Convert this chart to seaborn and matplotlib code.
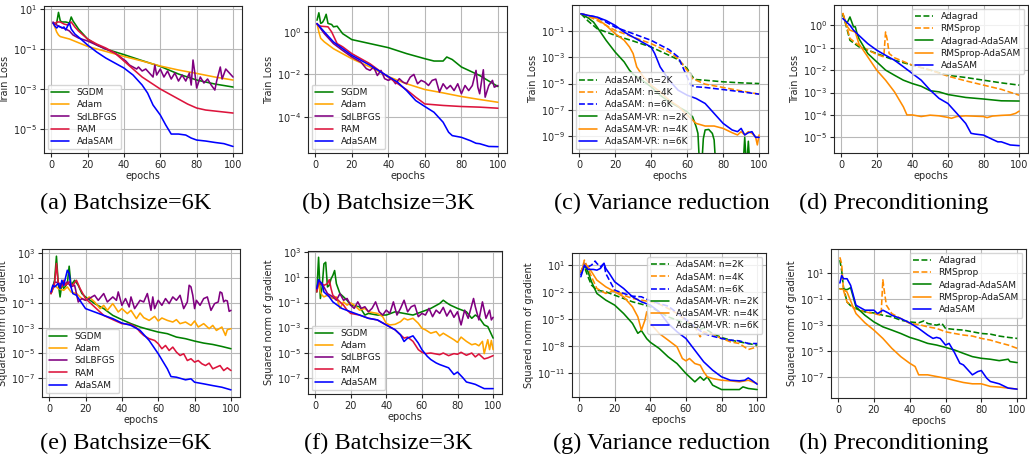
import numpy as np
import pandas as pd
import matplotlib
matplotlib.use("Agg")
import matplotlib.pyplot as plt
import seaborn as sns

# every series is a list of (epoch, log10 of the plotted value)

# (a) train loss, batchsize 6K
a_sgdm = [(1,0.3),(2,0.25),(3,0.3),(4,0.83),(5,0.4),(6,0.35),(8,0.35),(10,0.3),(11,0.6),(12,0.4),(15,0.0),(20,-0.5),
          (25,-0.8),(30,-1.0),(40,-1.28),(50,-1.58),(60,-1.87),(70,-2.25),(80,-2.55),(90,-2.75),(100,-2.9)]
a_adam = [(1,0.3),(2,0.1),(3,-0.15),(4,-0.3),(5,-0.38),(10,-0.5),(20,-0.87),(30,-1.12),(40,-1.37),(50,-1.6),
          (60,-1.85),(70,-2.05),(80,-2.22),(90,-2.4),(100,-2.55)]
a_sdlbfgs = [(1,0.35),(3,0.2),(5,0.1),(8,0.0),(10,-0.1),(12,-0.3),(15,-0.45),(20,-0.6),(25,-0.8),(30,-1.0),(35,-1.2),
             (38,-1.4),(41,-1.6),(43,-1.8),(45,-1.9),(47,-2.0),(48,-1.9),(50,-2.1),(52,-2.0),(54,-2.2),(56,-2.4),
             (57,-1.8),(58,-2.3),(60,-2.0),(62,-2.4),(64,-2.1),(66,-2.5),(68,-2.2),(70,-2.6),(72,-2.3),(74,-2.6),
             (76,-2.2),(77,-2.8),(78,-1.55),(79,-2.2),(80,-2.95),(82,-2.4),(84,-2.7),(86,-2.5),(88,-2.8),(90,-3.05),
             (91,-2.6),(93,-1.9),(94,-2.5),(96,-2.0),(98,-2.2),(100,-2.4)]
a_ram = [(1,0.3),(2,0.25),(3,0.35),(5,0.35),(7,0.25),(9,0.2),(11,0.35),(13,0.1),(15,-0.1),(20,-0.5),(25,-0.75),
         (30,-0.95),(35,-1.2),(40,-1.6),(45,-2.0),(50,-2.4),(55,-2.7),(60,-3.0),(65,-3.25),(70,-3.5),(75,-3.75),
         (80,-3.95),(85,-4.05),(90,-4.1),(95,-4.15),(100,-4.2)]
a_adasam = [(1,0.3),(2,0.15),(3,0.05),(4,0.15),(5,0.1),(6,0.05),(7,0.1),(8,-0.05),(9,0.15),(10,0.3),(11,0.0),
            (13,-0.25),(15,-0.4),(20,-0.8),(25,-1.15),(30,-1.45),(35,-1.7),(40,-1.95),(45,-2.3),(50,-2.8),(53,-3.2),
            (56,-3.8),(60,-4.3),(63,-4.8),(66,-5.25),(70,-5.25),(74,-5.3),(77,-5.45),(80,-5.55),(85,-5.6),(90,-5.67),
            (95,-5.73),(100,-5.87)]

# (b) train loss, batchsize 3K
b_sgdm = [(1,0.55),(2,0.9),(3,0.4),(4,0.45),(5,0.6),(6,0.83),(7,0.4),(9,0.35),(10,0.24),(12,0.27),(15,-0.08),
          (20,-0.36),(30,-0.55),(40,-0.74),(50,-1.02),(60,-1.26),(65,-1.37),(70,-1.37),(72,-1.18),(75,-1.3),
          (80,-1.65),(90,-2.05),(100,-2.57)]
b_adam = [(1,0.4),(2,0.0),(3,-0.3),(5,-0.47),(10,-0.79),(20,-1.26),(30,-1.65),(40,-2.1),(50,-2.44),(60,-2.71),
          (70,-2.87),(80,-3.04),(90,-3.18),(100,-3.31)]
b_sdlbfgs = [(1,0.39),(5,-0.08),(10,-0.55),(15,-0.87),(20,-1.18),(25,-1.42),(28,-1.73),(30,-1.81),(32,-1.65),
             (34,-2.05),(36,-1.81),(38,-2.2),(40,-2.28),(42,-2.2),(44,-2.44),(46,-2.2),(48,-2.36),(50,-2.44),
             (52,-2.13),(54,-2.0),(56,-2.44),(58,-2.28),(60,-2.36),(62,-2.52),(64,-2.28),(66,-2.22),(68,-2.83),
             (70,-2.44),(72,-2.68),(74,-2.52),(76,-2.76),(78,-2.44),(80,-2.91),(82,-2.52),(84,-2.76),(86,-2.52),
             (88,-1.81),(89,-2.6),(90,-2.91),(92,-1.78),(93,-3.07),(95,-2.52),(97,-2.28),(98,-2.6),(100,-2.52)]
b_ram = [(1,0.36),(3,0.27),(7,0.24),(9,0.0),(12,-0.55),(15,-0.7),(20,-1.02),(30,-1.5),(40,-2.13),(50,-2.72),
         (55,-3.07),(60,-3.39),(70,-3.46),(80,-3.51),(90,-3.54),(100,-3.59)]
b_adasam = [(1,0.39),(5,0.0),(10,-0.47),(20,-1.1),(30,-1.57),(40,-2.1),(45,-2.36),(50,-2.76),(55,-3.23),(60,-3.51),
            (65,-3.78),(70,-4.25),(73,-4.72),(75,-4.88),(80,-4.96),(85,-5.12),(88,-5.24),(90,-5.26),(95,-5.39),
            (100,-5.4)]

# (c) train loss, variance reduction
c_sam2 = [(1,0.32),(5,-0.24),(10,-0.82),(20,-1.33),(30,-1.76),(40,-2.22),(50,-2.85),(55,-3.18),(60,-3.86),
          (63,-4.49),(65,-4.7),(70,-4.75),(80,-4.87),(90,-4.95),(100,-5.0)]
c_sam4 = [(1,0.32),(5,0.12),(10,-0.19),(20,-0.95),(30,-1.46),(40,-1.96),(50,-2.6),(55,-3.1),(60,-3.99),(63,-4.62),
          (65,-4.75),(70,-5.05),(80,-5.3),(90,-5.56),(100,-5.81)]
c_sam6 = [(1,0.32),(5,0.19),(10,0.06),(15,-0.32),(20,-0.7),(30,-1.2),(40,-1.71),(50,-2.42),(55,-2.97),(60,-4.49),
          (62,-5.13),(65,-5.25),(70,-5.3),(80,-5.46),(90,-5.63),(100,-5.81)]
c_vr2 = [(1,0.32),(5,0.0),(8,-0.32),(10,-0.7),(15,-1.71),(20,-2.6),(25,-3.35),(28,-3.99),(30,-4.29),(35,-4.75),
         (40,-5.25),(45,-5.89),(50,-6.39),(55,-6.77),(60,-7.15),(63,-7.53),(65,-8.29),(66,-8.8),(67,-11.5),
         (68,-11.5),(69,-9.2),(70,-8.54),(72,-8.5),(74,-8.8),(75,-9.3),(76,-11.5),(91,-11.5),(92,-9.1),(93,-11.5),
         (94,-9.4),(95,-11.5),(100,-11.5)]
c_vr4 = [(1,0.32),(5,0.19),(10,-0.06),(15,-0.57),(20,-1.2),(25,-1.7),(28,-2.22),(30,-2.72),(32,-3.73),(35,-4.37),
         (40,-5.13),(45,-5.63),(50,-6.27),(55,-6.72),(60,-7.4),(65,-8.04),(70,-8.24),(75,-8.24),(80,-8.42),
         (85,-8.75),(88,-8.92),(90,-8.67),(92,-8.92),(94,-8.67),(96,-8.8),(98,-9.05),(99,-9.68),(100,-8.92)]
c_vr6 = [(1,0.32),(5,0.19),(10,0.06),(15,-0.2),(20,-0.57),(25,-1.08),(30,-1.46),(35,-1.84),(40,-2.22),(42,-2.72),
         (45,-3.73),(50,-4.75),(55,-5.51),(60,-5.89),(65,-6.14),(70,-6.52),(75,-7.28),(80,-8.04),(85,-8.54),
         (88,-8.67),(90,-8.42),(92,-8.92),(94,-8.75),(96,-8.67),(98,-9.1),(100,-9.1)]

# (d) train loss, preconditioning
d_adagrad = [(1,0.52),(3,-0.07),(5,-0.67),(10,-0.96),(20,-1.26),(30,-1.56),(40,-1.78),(50,-2.0),(60,-2.23),
             (70,-2.33),(80,-2.45),(90,-2.57),(100,-2.67)]
d_rmsprop = [(1,0.55),(3,0.0),(5,-0.59),(10,-0.9),(20,-1.3),(24,-1.41),(25,-0.3),(26,-0.67),(27,-1.26),(30,-1.45),
             (40,-1.78),(50,-2.0),(60,-2.27),(70,-2.48),(80,-2.67),(90,-2.86),(100,-3.12)]
d_adagrad_sam = [(1,0.45),(3,0.07),(4,0.2),(5,0.37),(6,0.15),(7,-0.07),(8,-0.07),(9,-0.37),(10,-0.59),(15,-1.26),
                 (20,-1.63),(25,-2.0),(30,-2.23),(35,-2.45),(40,-2.6),(45,-2.72),(50,-2.92),(55,-2.97),(60,-3.09),
                 (70,-3.22),(80,-3.29),(90,-3.37),(100,-3.38)]
d_rmsprop_sam = [(1,0.52),(3,0.0),(5,-0.22),(8,-0.3),(10,-0.82),(15,-1.41),(20,-2.0),(25,-2.45),(30,-2.97),
                 (35,-3.64),(37,-4.0),(40,-4.0),(45,-4.07),(50,-4.01),(55,-4.04),(60,-4.11),(62,-4.15),(65,-4.07),
                 (70,-4.04),(80,-4.07),(82,-4.12),(85,-4.05),(90,-4.02),(95,-4.0),(98,-3.93),(100,-3.83)]
d_adasam = [(1,0.3),(3,0.15),(5,0.0),(7,-0.22),(10,-0.45),(15,-0.82),(20,-1.11),(25,-1.34),(30,-1.56),(35,-1.85),
            (40,-2.15),(45,-2.45),(50,-2.89),(55,-3.26),(60,-3.49),(65,-3.93),(70,-4.38),(73,-4.82),(75,-4.85),
            (80,-4.9),(85,-5.09),(88,-5.2),(90,-5.2),(95,-5.34),(100,-5.37)]

# (e) squared gradient norm, batchsize 6K
e_sgdm = [(1,-0.25),(2,0.28),(3,0.81),(4,2.73),(5,0.55),(6,-0.52),(7,0.55),(8,0.15),(10,0.55),(11,1.93),(12,0.41),
          (14,0.81),(16,0.41),(18,-0.25),(20,-0.52),(25,-1.05),(30,-1.45),(35,-1.99),(40,-2.33),(45,-2.65),
          (50,-2.92),(55,-3.13),(60,-3.32),(65,-3.45),(70,-3.72),(75,-3.85),(80,-4.04),(85,-4.2),(90,-4.31),
          (95,-4.47),(100,-4.65)]
e_adam = [(1,-0.25),(3,0.41),(5,0.15),(8,0.01),(10,0.28),(12,-0.12),(15,-0.25),(18,-0.65),(20,-0.79),(22,-0.52),
          (25,-0.92),(28,-1.45),(30,-1.19),(32,-1.59),(35,-1.05),(38,-1.72),(40,-1.45),(43,-1.85),(45,-1.59),
          (48,-2.25),(50,-1.8),(52,-2.17),(55,-2.39),(58,-2.07),(60,-2.44),(62,-2.2),(65,-2.39),(68,-2.52),
          (70,-2.33),(72,-2.65),(75,-2.52),(78,-2.79),(80,-2.44),(82,-2.92),(85,-2.65),(88,-3.05),(90,-2.79),
          (92,-3.19),(95,-2.92),(97,-3.59),(98,-3.13),(100,-3.05)]
e_sdlbfgs = [(1,-0.25),(3,0.68),(5,0.6),(8,0.41),(10,0.68),(12,0.28),(14,0.41),(16,-0.92),(18,-0.65),(20,-0.79),
             (22,-0.65),(25,-0.39),(27,-0.79),(30,-0.25),(32,-0.92),(35,-0.52),(37,-0.79),(38,-0.12),(40,-1.19),
             (42,-0.65),(44,-1.32),(45,-0.52),(47,-1.45),(50,-0.79),(52,-0.92),(54,-0.25),(56,-1.59),(57,-0.52),
             (58,-1.45),(60,-0.79),(62,-1.19),(64,-0.65),(66,-1.05),(68,-0.52),(70,-0.79),(72,-0.39),(74,-1.45),
             (76,-0.92),(77,0.41),(78,0.28),(79,-0.39),(80,-1.45),(81,-0.79),(83,-1.19),(85,-0.65),(87,-0.52),
             (89,-1.59),(91,-1.05),(93,-0.92),(94,-0.12),(95,-0.2),(96,-0.92),(97,-0.79),(98,-0.84),(99,-1.67),
             (100,-1.59)]
e_ram = [(1,-0.25),(2,0.15),(3,0.55),(4,2.15),(5,0.55),(7,0.28),(8,0.81),(9,0.41),(11,0.68),(13,0.41),(15,0.81),
         (17,0.15),(20,-0.65),(25,-1.32),(30,-1.99),(35,-2.33),(40,-2.65),(45,-2.71),(48,-2.97),(50,-3.32),
         (52,-3.59),(55,-3.85),(58,-3.99),(60,-4.25),(62,-4.65),(64,-4.39),(66,-4.79),(68,-4.52),(70,-4.92),
         (72,-5.19),(74,-5.05),(76,-5.59),(78,-5.45),(80,-5.72),(82,-5.59),(84,-5.85),(86,-5.99),(88,-5.8),
         (90,-6.25),(92,-6.12),(94,-5.99),(96,-6.39),(98,-6.17),(100,-6.39)]
e_adasam = [(1,-0.12),(2,0.41),(3,0.28),(5,0.55),(6,0.15),(7,0.81),(8,0.41),(10,1.61),(11,1.35),(12,0.28),
            (13,-0.25),(15,-0.39),(20,-1.45),(25,-1.72),(30,-1.99),(35,-2.25),(40,-2.6),(45,-2.79),(50,-3.19),
            (55,-3.99),(60,-5.05),(65,-6.25),(67,-6.87),(70,-6.92),(75,-7.13),(78,-7.05),(80,-7.32),(85,-7.45),
            (90,-7.59),(95,-7.72),(100,-7.93)]

# (f) squared gradient norm, batchsize 3K
f_sgdm = [(1,-0.16),(2,2.61),(3,-0.68),(4,0.24),(5,2.08),(6,2.21),(7,0.24),(8,0.37),(9,0.89),(10,1.16),(11,1.55),
          (12,0.5),(14,-0.29),(16,-0.55),(18,-0.82),(20,-1.21),(25,-1.34),(28,-2.0),(30,-1.87),(35,-2.0),(40,-2.0),
          (45,-1.74),(50,-1.87),(55,-2.0),(60,-1.74),(65,-1.47),(70,-1.08),(72,-0.82),(74,-1.03),(76,-1.21),
          (80,-1.47),(85,-1.74),(88,-2.26),(90,-2.0),(92,-2.18),(95,-2.79),(97,-2.92),(100,-3.84)]
f_adam = [(1,0.11),(2,0.5),(3,-0.16),(4,-0.42),(5,-0.55),(7,-0.42),(10,-0.68),(12,-0.55),(14,-1.47),(16,-0.95),
          (18,-1.21),(20,-1.03),(22,-1.21),(25,-1.61),(28,-1.47),(30,-1.74),(35,-1.87),(38,-2.13),(40,-2.66),
          (42,-2.79),(45,-2.74),(48,-2.53),(50,-2.26),(52,-2.39),(55,-2.26),(58,-2.66),(60,-3.05),(62,-3.18),
          (65,-3.45),(68,-3.32),(70,-3.66),(72,-3.45),(75,-3.71),(78,-3.97),(80,-4.18),(82,-3.76),(85,-4.1),
          (88,-4.37),(90,-4.29),(92,-4.45),(94,-4.1),(95,-5.08),(96,-4.5),(97,-3.97),(98,-4.76),(99,-4.03),
          (100,-4.76)]
f_sdlbfgs = [(1,0.03),(2,0.76),(3,0.5),(5,0.24),(7,-0.29),(10,-0.55),(12,-0.82),(14,-0.29),(16,-0.82),(18,-0.68),
             (20,-1.21),(22,-1.47),(24,-0.95),(26,-1.47),(28,-1.34),(30,-1.74),(32,-1.47),(34,-0.95),(36,-1.74),
             (38,-2.0),(40,-1.61),(42,-1.87),(44,-0.95),(46,-2.0),(48,-1.47),(50,-0.82),(52,-1.74),(54,-1.34),
             (56,-1.21),(58,-2.13),(60,-1.87),(62,-2.0),(64,-1.47),(66,-2.13),(68,-1.61),(70,-1.87),(72,-1.39),
             (74,-2.08),(76,-1.61),(78,-2.18),(80,-1.74),(82,-2.79),(84,-1.61),(86,-2.26),(88,-1.21),(89,-0.68),
             (90,-1.34),(92,-2.39),(94,-0.95),(96,-2.26),(98,-1.61),(99,-2.39),(100,-2.18)]
f_ram = [(1,-0.16),(2,0.5),(3,0.63),(5,0.37),(7,0.5),(8,0.82),(9,0.11),(10,-0.42),(12,-0.68),(14,-0.95),(16,-1.21),
         (18,-1.61),(20,-1.87),(25,-2.0),(30,-2.26),(35,-2.39),(40,-2.79),(45,-3.18),(50,-3.84),(52,-3.76),
         (55,-4.1),(58,-4.76),(60,-4.97),(62,-5.08),(65,-5.03),(70,-5.16),(72,-5.03),(75,-5.24),(78,-5.08),
         (80,-5.13),(82,-4.97),(85,-5.21),(88,-5.03),(90,-5.34),(92,-5.11),(95,-5.5),(97,-5.42),(100,-5.24)]
f_adasam = [(1,0.11),(2,0.82),(3,0.63),(4,0.5),(5,-0.16),(6,-0.29),(8,-0.55),(10,-0.95),(15,-1.47),(20,-1.74),
            (25,-2.0),(30,-2.26),(35,-2.39),(40,-2.79),(45,-3.18),(48,-3.58),(50,-4.11),(52,-3.84),(55,-3.66),
            (58,-4.24),(60,-4.76),(63,-5.29),(65,-5.55),(68,-5.82),(70,-5.95),(75,-6.21),(78,-6.74),(80,-6.55),
            (83,-7.0),(85,-7.34),(88,-7.45),(90,-7.53),(95,-7.87),(100,-7.87)]

# (g) squared gradient norm, variance reduction
g_sam2 = [(1,0.26),(3,0.81),(5,-0.3),(7,-1.23),(10,-1.79),(15,-1.97),(20,-2.35),(25,-2.72),(30,-3.09),(35,-3.35),
          (40,-3.65),(45,-4.2),(50,-4.76),(55,-5.13),(60,-5.5),(65,-5.88),(68,-6.17),(70,-5.95),(72,-6.25),
          (75,-6.62),(80,-7.07),(85,-7.36),(90,-7.55),(95,-7.74),(100,-7.92)]
g_sam4 = [(1,0.07),(3,1.56),(5,0.63),(7,-0.3),(10,-1.6),(15,-2.16),(20,-1.79),(25,-2.35),(30,-2.72),(35,-2.9),
          (40,-3.09),(45,-3.35),(50,-3.83),(55,-4.39),(60,-5.13),(65,-5.88),(68,-6.99),(70,-6.43),(75,-6.7),
          (80,-7.18),(85,-7.55),(90,-7.74),(95,-8.41),(100,-8.11)]
g_sam6 = [(1,-0.12),(3,1.19),(5,0.81),(7,1.0),(9,1.45),(10,1.19),(12,0.81),(14,1.19),(15,0.07),(20,-1.79),
          (25,-2.16),(30,-2.46),(35,-2.53),(40,-2.98),(45,-3.28),(50,-3.57),(55,-4.32),(60,-5.06),(65,-5.88),
          (70,-6.62),(75,-6.92),(80,-7.18),(85,-7.36),(90,-7.44),(95,-7.74),(100,-7.74)]
g_vr2 = [(1,0.26),(3,1.0),(5,0.26),(7,-0.86),(10,-2.16),(15,-2.9),(20,-3.46),(25,-4.39),(30,-5.5),(33,-6.6),
         (35,-6.3),(38,-7.2),(40,-7.6),(45,-8.29),(50,-9.22),(55,-9.97),(60,-11.08),(65,-12.01),(68,-11.45),
         (70,-11.83),(72,-11.45),(75,-12.38),(80,-12.87),(85,-12.87),(90,-12.87),(92,-12.57),(95,-12.75),
         (100,-12.87)]
g_vr4 = [(1,0.26),(3,1.19),(5,0.81),(7,0.26),(10,-0.67),(15,-1.42),(20,-1.97),(25,-2.53),(30,-3.65),(33,-4.76),
         (35,-6.25),(37,-5.13),(38,-4.2),(39,-4.95),(40,-5.5),(45,-6.62),(50,-7.36),(55,-8.11),(58,-9.41),
         (60,-9.67),(62,-9.41),(65,-9.97),(68,-10.15),(70,-10.9),(72,-11.45),(75,-11.64),(80,-11.83),(85,-11.9),
         (90,-12.01),(95,-11.83),(100,-12.2)]
g_vr6 = [(1,-0.3),(3,1.0),(5,0.52),(8,0.52),(10,0.44),(12,0.63),(14,1.19),(15,0.63),(17,0.07),(20,-0.86),
         (25,-1.6),(30,-2.53),(35,-3.09),(40,-3.46),(45,-4.2),(50,-5.5),(55,-6.43),(60,-7.18),(65,-8.48),
         (70,-9.78),(75,-10.71),(80,-11.45),(85,-11.83),(90,-11.9),(93,-11.83),(95,-11.57),(97,-11.83),
         (100,-12.27)]

# (h) squared gradient norm, preconditioning
h_adagrad = [(1,2.0),(2,1.2),(3,-0.07),(5,-1.22),(8,-1.65),(10,-1.73),(15,-1.98),(20,-2.06),(25,-2.24),(30,-2.36),
             (35,-2.62),(40,-2.75),(45,-2.82),(48,-2.67),(50,-2.87),(55,-3.0),(58,-2.87),(60,-3.25),(65,-3.33),
             (70,-3.38),(75,-3.51),(80,-3.64),(85,-3.69),(90,-3.84),(95,-3.94),(100,-4.02)]
h_rmsprop = [(1,2.22),(2,1.71),(3,-0.32),(5,-1.22),(10,-1.8),(15,-1.98),(20,-2.11),(24,-2.24),(25,0.49),(26,-0.58),
             (27,-1.47),(30,-2.11),(35,-2.49),(40,-2.87),(45,-2.95),(50,-3.13),(55,-3.25),(60,-3.51),(65,-3.64),
             (70,-3.76),(75,-3.84),(80,-4.02),(85,-4.15),(90,-4.35),(95,-4.53),(100,-4.78)]
h_adagrad_sam = [(1,-0.2),(5,-0.27),(7,-0.12),(10,-1.6),(15,-2.24),(20,-2.75),(25,-3.13),(30,-3.38),(35,-3.64),
                 (40,-3.94),(45,-4.15),(50,-4.4),(55,-4.53),(60,-4.71),(65,-4.91),(70,-5.17),(75,-5.42),(80,-5.55),
                 (85,-5.62),(90,-5.73),(95,-5.62),(96,-5.8),(100,-5.88)]
h_rmsprop_sam = [(1,-0.2),(3,-0.27),(5,-0.45),(8,-1.47),(10,-2.11),(15,-2.82),(20,-3.38),(25,-4.02),(30,-4.78),
                 (35,-5.42),(40,-5.93),(43,-6.18),(45,-6.82),(50,-6.82),(55,-6.95),(60,-7.08),(65,-7.25),(70,-7.41),
                 (75,-7.51),(80,-7.51),(85,-7.71),(90,-7.76),(95,-7.84),(100,-7.92)]
h_adasam = [(1,0.24),(2,0.82),(3,0.57),(5,0.57),(7,0.06),(10,-1.47),(15,-1.85),(20,-1.85),(22,-2.11),(25,-1.85),
            (28,-2.06),(30,-2.24),(35,-2.49),(40,-2.82),(45,-3.25),(50,-3.76),(53,-4.02),(55,-3.94),(57,-4.02),
            (60,-4.53),(62,-4.4),(65,-5.11),(68,-5.93),(70,-6.06),(75,-6.82),(78,-6.57),(80,-6.49),(83,-7.08),
            (85,-7.33),(90,-7.51),(95,-7.84),(100,-7.92)]

GREEN, ORANGE, DORANGE, PURPLE, RED, BLUE = "#008000", "#ffa500", "#ff8c00", "#800080", "#dc143c", "#0000ff"

sns.set_style("whitegrid", rc={
    "axes.edgecolor": "0.15", "axes.linewidth": 1.2, "grid.color": "0.72", "grid.linewidth": 0.9,
    "xtick.bottom": True, "ytick.left": True, "xtick.color": "0.15", "ytick.color": "0.15",
    "axes.labelcolor": "0.15", "text.color": "0.1"})
plt.rcParams["font.family"] = ["DejaVu Sans"]
plt.rcParams["xtick.major.size"] = 3
plt.rcParams["ytick.major.size"] = 3

fig = plt.figure(figsize=(10.29, 4.61), dpi=100)

panels = [
    # position, series, ylim (log10), ytick exponents, ylabel, legend loc
    ([0.0428, 0.668, 0.1924, 0.319],
     [("SGDM", a_sgdm, GREEN, "-"), ("Adam", a_adam, ORANGE, "-"), ("SdLBFGS", a_sdlbfgs, PURPLE, "-"),
      ("RAM", a_ram, RED, "-"), ("AdaSAM", a_adasam, BLUE, "-")],
     (-6.2, 1.15), [1, -1, -3, -5], "Train Loss", "lower left"),
    ([0.2993, 0.668, 0.1934, 0.319],
     [("SGDM", b_sgdm, GREEN, "-"), ("Adam", b_adam, ORANGE, "-"), ("SdLBFGS", b_sdlbfgs, PURPLE, "-"),
      ("RAM", b_ram, RED, "-"), ("AdaSAM", b_adasam, BLUE, "-")],
     (-5.7, 1.22), [0, -2, -4], "Train Loss", "lower left"),
    ([0.5559, 0.668, 0.1905, 0.321],
     [("AdaSAM: n=2K", c_sam2, GREEN, "--"), ("AdaSAM: n=4K", c_sam4, DORANGE, "--"),
      ("AdaSAM: n=6K", c_sam6, BLUE, "--"), ("AdaSAM-VR: n=2K", c_vr2, GREEN, "-"),
      ("AdaSAM-VR: n=4K", c_vr4, DORANGE, "-"), ("AdaSAM-VR: n=6K", c_vr6, BLUE, "-")],
     (-10.3, 0.98), [-1, -3, -5, -7, -9], "Train Loss", "lower left"),
    ([0.8105, 0.668, 0.1885, 0.321],
     [("Adagrad", d_adagrad, GREEN, "--"), ("RMSprop", d_rmsprop, DORANGE, "--"),
      ("Adagrad-AdaSAM", d_adagrad_sam, GREEN, "-"), ("RMSprop-AdaSAM", d_rmsprop_sam, DORANGE, "-"),
      ("AdaSAM", d_adasam, BLUE, "-")],
     (-5.7, 0.9), [0, -1, -2, -3, -4, -5], "Train Loss", "upper right"),
    ([0.0408, 0.1388, 0.1924, 0.321],
     [("SGDM", e_sgdm, GREEN, "-"), ("Adam", e_adam, ORANGE, "-"), ("SdLBFGS", e_sdlbfgs, PURPLE, "-"),
      ("RAM", e_ram, RED, "-"), ("AdaSAM", e_adasam, BLUE, "-")],
     (-8.5, 3.3), [3, 1, -1, -3, -5, -7], "Squared norm of gradient", "lower left"),
    ([0.2993, 0.1453, 0.1885, 0.310],
     [("SGDM", f_sgdm, GREEN, "-"), ("Adam", f_adam, ORANGE, "-"), ("SdLBFGS", f_sdlbfgs, PURPLE, "-"),
      ("RAM", f_ram, RED, "-"), ("AdaSAM", f_adasam, BLUE, "-")],
     (-8.3, 3.1), [3, 1, -1, -3, -5, -7], "Squared norm of gradient", "lower left"),
    ([0.5559, 0.1388, 0.1885, 0.312],
     [("AdaSAM: n=2K", g_sam2, GREEN, "--"), ("AdaSAM: n=4K", g_sam4, DORANGE, "--"),
      ("AdaSAM: n=6K", g_sam6, BLUE, "--"), ("AdaSAM-VR: n=2K", g_vr2, GREEN, "-"),
      ("AdaSAM-VR: n=4K", g_vr4, DORANGE, "-"), ("AdaSAM-VR: n=6K", g_vr6, BLUE, "-")],
     (-13.7, 2.33), [1, -2, -5, -8, -11], "Squared norm of gradient", "upper right"),
    ([0.8076, 0.1367, 0.1895, 0.323],
     [("Adagrad", h_adagrad, GREEN, "--"), ("RMSprop", h_rmsprop, DORANGE, "--"),
      ("Adagrad-AdaSAM", h_adagrad_sam, GREEN, "-"), ("RMSprop-AdaSAM", h_rmsprop_sam, DORANGE, "-"),
      ("AdaSAM", h_adasam, BLUE, "-")],
     (-8.6, 2.85), [1, -1, -3, -5, -7], "Squared norm of gradient", "upper right"),
]

for pos, series, ylim, yexp, ylabel, loc in panels:
    ax = fig.add_axes(pos)
    for name, pts, color, ls in series:
        df = pd.DataFrame(pts, columns=["epoch", "log10v"])
        df["value"] = 10.0 ** df["log10v"]
        sns.lineplot(data=df, x="epoch", y="value", ax=ax, color=color, linestyle=ls,
                     linewidth=1.15, label=name, estimator=None, sort=False)
    ax.set_yscale("log")
    ax.set_ylim(10.0 ** ylim[0], 10.0 ** ylim[1])
    ax.set_yticks([10.0 ** k for k in yexp])
    ax.set_yticklabels([r"$10^{%d}$" % k for k in yexp])
    ax.yaxis.set_minor_locator(matplotlib.ticker.NullLocator())
    ax.set_xticks([0, 20, 40, 60, 80, 100])
    ax.set_xlim(-3.95, 104.95)
    ax.tick_params(labelsize=7, pad=2)
    ax.set_xlabel("epochs", fontsize=7, labelpad=1)
    ax.set_ylabel(ylabel, fontsize=7, labelpad=2)
    ax.grid(True, which="major")
    ax.legend(loc=loc, fontsize=6.5, handlelength=2.0, borderaxespad=0.4, labelspacing=0.35,
              framealpha=0.8, fancybox=True)

captions = ["(a) Batchsize=6K", "(b) Batchsize=3K", "(c) Variance reduction", "(d) Preconditioning",
            "(e) Batchsize=6K", "(f) Batchsize=3K", "(g) Variance reduction", "(h) Preconditioning"]
cap_x = [0.1224, 0.377, 0.6433, 0.8688]
for i, text in enumerate(captions):
    fig.text(cap_x[i % 4], 0.5597 if i < 4 else 0.039, text, ha="center", va="center",
             fontsize=17.5, family="Liberation Serif", color="black")

fig.savefig("out.png", dpi=100)
